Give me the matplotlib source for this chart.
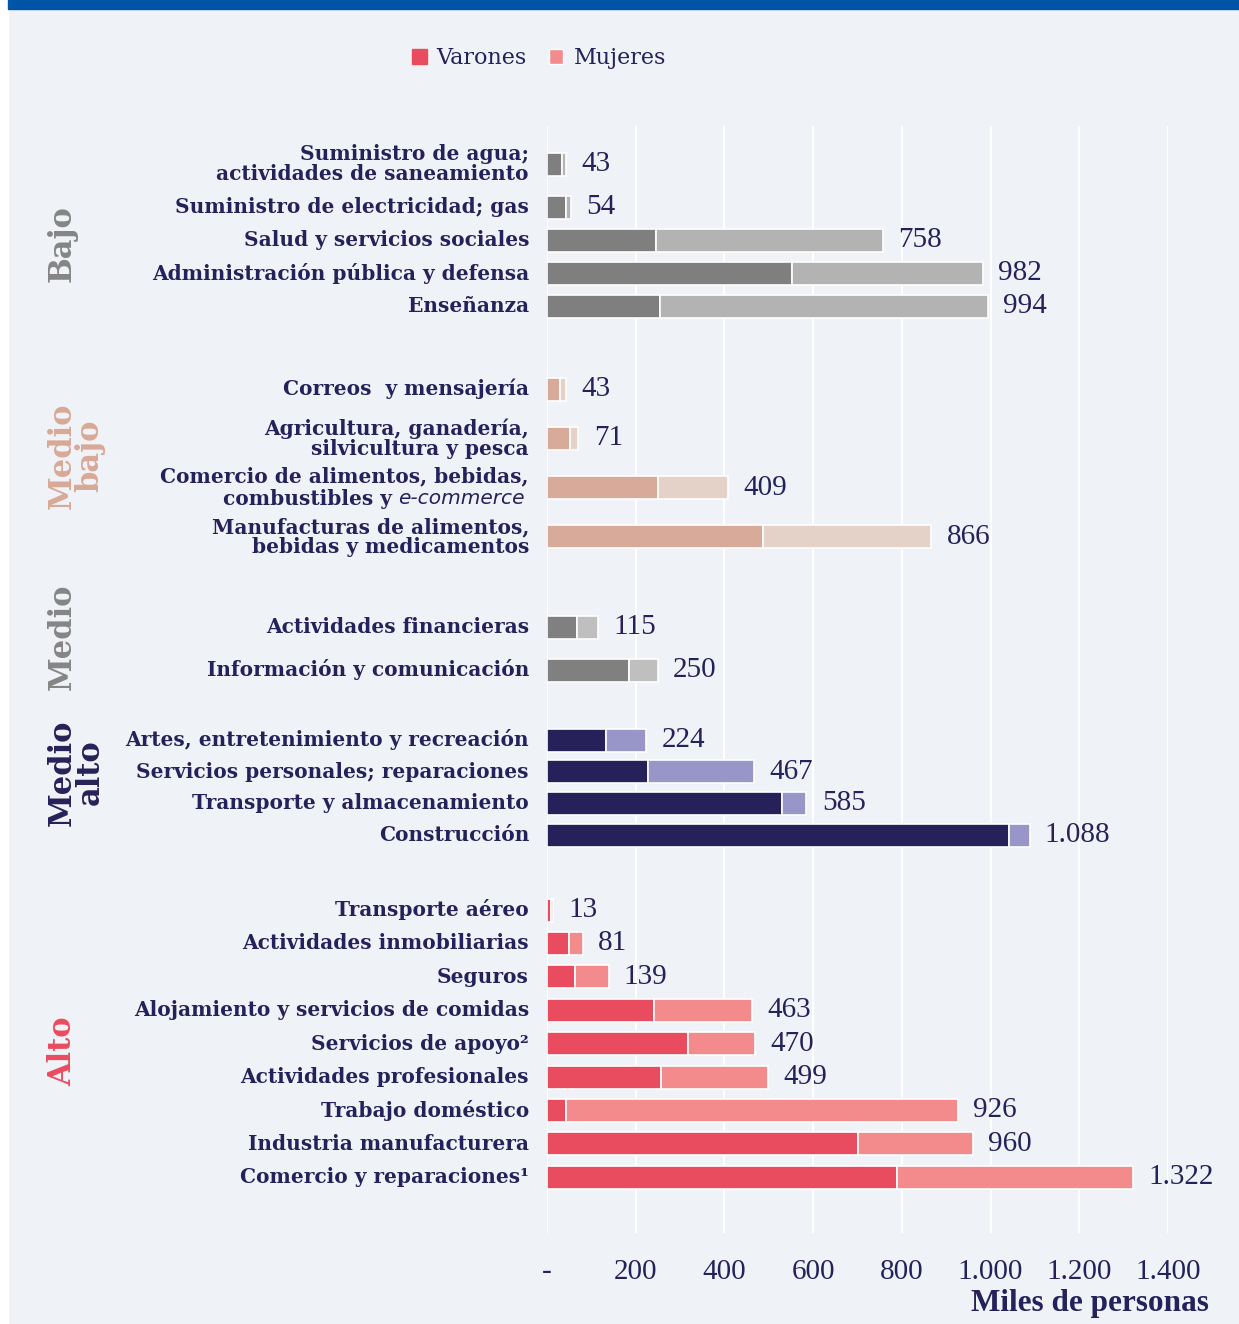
import numpy as np
import matplotlib.pyplot as plt
from matplotlib.patches import Patch, Rectangle

# Ocupados por rama de actividad y nivel salarial (miles de personas)
grupos = ["Bajo", "Medio\nbajo", "Medio", "Medio\nalto", "Alto"]

bajo_ramas = ["Suministro de agua;\nactividades de saneamiento",
              "Suministro de electricidad; gas",
              "Salud y servicios sociales",
              "Administración pública y defensa",
              "Enseñanza"]
bajo_varones = [33, 42, 245, 552, 255]
bajo_mujeres = [10, 12, 513, 430, 739]

medio_bajo_ramas = ["Correos  y mensajería",
                    "Agricultura, ganadería,\nsilvicultura y pesca",
                    "Comercio de alimentos, bebidas,\ncombustibles y e-commerce",
                    "Manufacturas de alimentos,\nbebidas y medicamentos"]
medio_bajo_varones = [30, 51, 250, 486]
medio_bajo_mujeres = [13, 20, 159, 380]

medio_ramas = ["Actividades financieras", "Información y comunicación"]
medio_varones = [68, 185]
medio_mujeres = [47, 65]

medio_alto_ramas = ["Artes, entretenimiento y recreación",
                    "Servicios personales; reparaciones",
                    "Transporte y almacenamiento",
                    "Construcción"]
medio_alto_varones = [132, 227, 529, 1042]
medio_alto_mujeres = [92, 240, 56, 46]

alto_ramas = ["Transporte aéreo", "Actividades inmobiliarias", "Seguros",
              "Alojamiento y servicios de comidas", "Servicios de apoyo²",
              "Actividades profesionales", "Trabajo doméstico",
              "Industria manufacturera", "Comercio y reparaciones¹"]
alto_varones = [9, 50, 63, 242, 319, 258, 43, 701, 789]
alto_mujeres = [4, 31, 76, 221, 151, 241, 883, 259, 533]

x_ticks = [0, 200, 400, 600, 800, 1000, 1200, 1400]

# colores (varones, mujeres, etiqueta del grupo)
col_varones = ["#7f7f7f", "#d7aa99", "#808080", "#262158", "#e94c5e"]
col_mujeres = ["#b3b3b3", "#e4d2c9", "#bfbfbf", "#9895c9", "#f38a8b"]
col_grupo = ["#858585", "#d9a997", "#858585", "#262158", "#e94c5e"]

# layout: primera fila, paso entre filas, paso extra tras etiqueta de dos lineas, ajuste etiqueta grupo
g_inicio = [164, 389, 627, 740, 910]
g_paso = [33, 49.3, 43, 31.7, 33.4]
g_extra = [10, 0, 0, 0, 0]
g_dy = [6, -7, -12, -15, 8]

NAVY = "#25215a"
BG = "#eff3f7"


def fmt(v):
    return "-" if v == 0 else f"{v:,}".replace(",", ".")


fig = plt.figure(figsize=(12.39, 13.24), dpi=100, facecolor=BG)
W, H = 1239, 1324
fig.patches.append(Rectangle((0, 0), 8 / W, 1, transform=fig.transFigure, color="white", zorder=0))
fig.patches.append(Rectangle((8 / W, 1 - 9 / H), 1, 9 / H, transform=fig.transFigure, color="#0054a6", zorder=0))

ax = fig.add_axes([547 / W, 1 - 1233 / H, (1168 - 547) / W, (1233 - 126) / H])
ax.set_facecolor(BG)
ax.set_xlim(0, 1400)
ax.set_ylim(1233, 126)
for s in ax.spines.values():
    s.set_visible(False)
ax.set_yticks([])
ax.set_xticks(x_ticks, [fmt(t) for t in x_ticks])
ax.tick_params(axis="x", length=0, pad=19, labelsize=21, labelcolor=NAVY)
for t in ax.get_xticklabels():
    t.set_family("Liberation Serif")
ax.grid(axis="x", color="white", linewidth=1.5)
ax.set_axisbelow(True)

fbold = dict(family="DejaVu Serif", weight="bold", size=14.5, color=NAVY)
renderer = fig.canvas.get_renderer()

datos = [(bajo_ramas, bajo_varones, bajo_mujeres),
         (medio_bajo_ramas, medio_bajo_varones, medio_bajo_mujeres),
         (medio_ramas, medio_varones, medio_mujeres),
         (medio_alto_ramas, medio_alto_varones, medio_alto_mujeres),
         (alto_ramas, alto_varones, alto_mujeres)]

for gi, (ramas, var, muj) in enumerate(datos):
    ys = []
    y = g_inicio[gi]
    for lab in ramas:
        ys.append(y)
        y += g_paso[gi] + (g_extra[gi] if "\n" in lab else 0)
    var = np.array(var)
    muj = np.array(muj)
    ax.barh(ys, var, height=23, color=col_varones[gi], edgecolor="white", linewidth=1.2)
    cont = ax.barh(ys, muj, left=var, height=23, color=col_mujeres[gi], edgecolor="white", linewidth=1.2)
    ax.bar_label(cont, labels=[fmt(v) for v in var + muj], padding=11, fontsize=21,
                 family="Liberation Serif", color=NAVY)

    for y, lab in zip(ys, ramas):
        if "e-commerce" in lab:
            l1, l2 = lab.split("\n")
            ax.annotate(l1, xy=(0, y - 11), xycoords=("axes fraction", "data"), xytext=(-18, 0),
                        textcoords="offset pixels", ha="right", va="center", **fbold)
            it = ax.annotate("e-commerce", xy=(0, y + 11), xycoords=("axes fraction", "data"),
                             xytext=(-22, 0), textcoords="offset pixels", ha="right", va="center",
                             family="DejaVu Sans", style="italic", size=14.5, color=NAVY)
            w = it.get_window_extent(renderer).width
            ax.annotate(l2.replace("e-commerce", ""), xy=(0, y + 11), xycoords=("axes fraction", "data"),
                        xytext=(-22 - w, 0), textcoords="offset pixels", ha="right", va="center", **fbold)
        else:
            ax.annotate(lab, xy=(0, y), xycoords=("axes fraction", "data"), xytext=(-18, 0),
                        textcoords="offset pixels", ha="right", va="center", multialignment="right",
                        linespacing=1.0, **fbold)

    ax.annotate(grupos[gi], xy=(47, np.mean(ys) + g_dy[gi]), xycoords=("figure pixels", "data"),
                rotation=90, ha="left", va="center", multialignment="center", linespacing=0.85,
                family="DejaVu Serif", weight="bold", size=22, color=col_grupo[gi])

fig.text(1209 / W, 1 - 1303 / H, "Miles de personas", ha="right", va="center",
         family="Liberation Serif", weight="bold", size=22.5, color=NAVY)

fig.legend(handles=[Patch(color=col_varones[4]), Patch(facecolor=col_mujeres[4], edgecolor="white")],
           labels=["Varones", "Mujeres"], loc="center", bbox_to_anchor=(539 / W, 1 - 58 / H),
           ncol=2, frameon=False, prop=dict(family="DejaVu Serif", size=16), labelcolor=NAVY,
           handlelength=0.65, handleheight=0.65, handletextpad=0.45, columnspacing=1.0)

fig.savefig("out.png", dpi=100, facecolor=BG)
